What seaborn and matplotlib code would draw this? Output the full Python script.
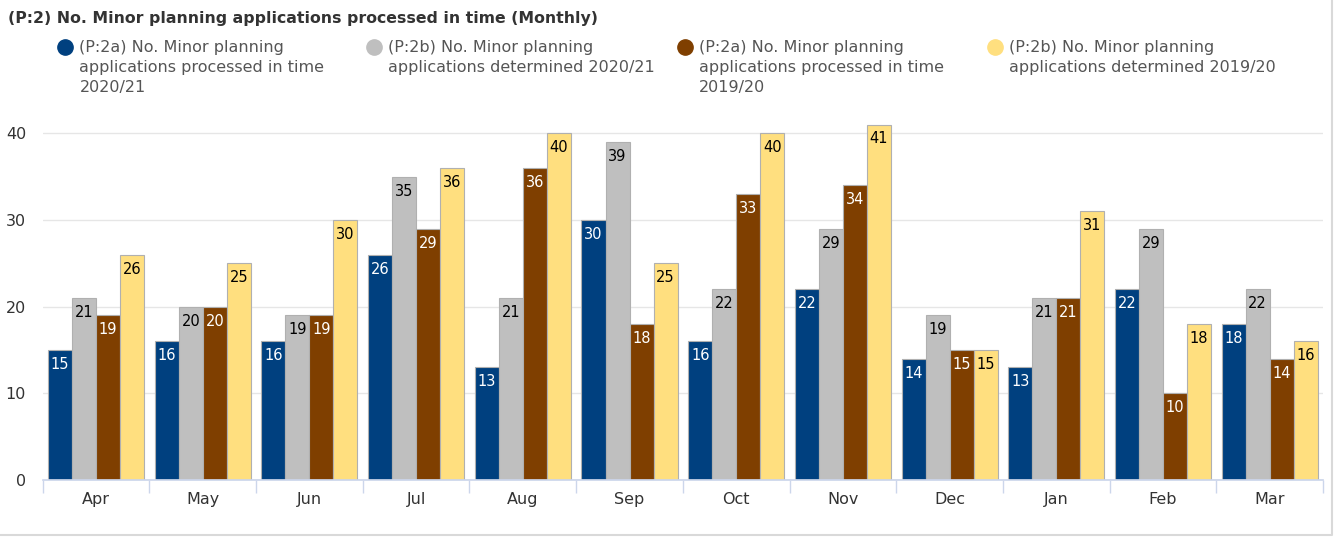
import matplotlib
matplotlib.use("Agg")
import matplotlib.pyplot as plt
from matplotlib.lines import Line2D
import numpy as np
import pandas as pd
import seaborn as sns

months = ["Apr", "May", "Jun", "Jul", "Aug", "Sep", "Oct", "Nov", "Dec", "Jan", "Feb", "Mar"]
series_names = [
    "(P:2a) No. Minor planning\napplications processed in time\n2020/21",
    "(P:2b) No. Minor planning\napplications determined 2020/21",
    "(P:2a) No. Minor planning\napplications processed in time\n2019/20",
    "(P:2b) No. Minor planning\napplications determined 2019/20",
]
processed_2021 = [15, 16, 16, 26, 13, 30, 16, 22, 14, 13, 22, 18]
determined_2021 = [21, 20, 19, 35, 21, 39, 22, 29, 19, 21, 29, 22]
processed_1920 = [19, 20, 19, 29, 36, 18, 33, 34, 15, 21, 10, 14]
determined_1920 = [26, 25, 30, 36, 40, 25, 40, 41, 15, 31, 18, 16]
colors = ["#00407F", "#BFBFBF", "#7F3F00", "#FFDF7F"]
label_colors = ["white", "black", "white", "black"]

values = [processed_2021, determined_2021, processed_1920, determined_1920]
df = pd.DataFrame({
    "month": np.tile(months, 4),
    "series": np.repeat(series_names, len(months)),
    "value": np.concatenate(values),
})

sns.set_theme(style="white")
plt.rcParams["font.family"] = ["DejaVu Sans"]

fig = plt.figure(figsize=(13.35, 5.41), dpi=100)
ax = fig.add_axes([0.032, 0.1128, 0.959, 0.673])

sns.barplot(data=df, x="month", y="value", hue="series", order=months,
            hue_order=series_names, palette=colors, width=0.9, gap=0,
            saturation=1, edgecolor="#b0b0b0", linewidth=0.8, legend=False, ax=ax)

# value labels just inside the top of each bar
for container, tc in zip(ax.containers, label_colors):
    for bar in container:
        h = bar.get_height()
        ax.annotate(f"{h:.0f}", (bar.get_x() + bar.get_width() / 2, h),
                    xytext=(0, -5), textcoords="offset points",
                    ha="center", va="top", fontsize=10.5, color=tc)

ax.set_xlim(-0.5, len(months) - 0.5)
ax.set_ylim(0, 42)
ax.set_yticks([0, 10, 20, 30, 40])
ax.yaxis.grid(True, color="#e6e6e6", linewidth=1)
ax.set_axisbelow(True)
ax.set_xlabel("")
ax.set_ylabel("")
for side in ["top", "right", "left"]:
    ax.spines[side].set_visible(False)
ax.spines["bottom"].set_color("#ccd6eb")
ax.set_xticks(np.arange(-0.5, len(months)), minor=True)
ax.tick_params(axis="x", which="minor", bottom=True, length=9, color="#ccd6eb",
               width=1, direction="out")
ax.tick_params(axis="x", which="major", length=0, pad=9, labelsize=11.5, labelcolor="#333333")
ax.tick_params(axis="y", length=0, pad=12, labelsize=11.5, labelcolor="#333333")

fig.text(0.006, 0.965, "(P:2) No. Minor planning applications processed in time (Monthly)",
         fontsize=11.3, fontweight="bold", color="#333333", va="center", ha="left")

# legend entries laid out in four columns
leg_x = [0.049, 0.280, 0.513, 0.745]
for x, c, name in zip(leg_x, colors, series_names):
    fig.add_artist(Line2D([x], [0.913], marker="o", markersize=11, color=c,
                          linestyle="none", transform=fig.transFigure))
    fig.text(x + 0.0105, 0.926, name, fontsize=11.5, color="#555555",
             va="top", ha="left", linespacing=1.42)

# light frame around the chart
fig.add_artist(Line2D([0.998, 0.998, 0.0], [1.0, 0.011, 0.011], color="#d9d9d9",
                      linewidth=1.5, transform=fig.transFigure))

fig.savefig("out.png", dpi=100, facecolor="white")
